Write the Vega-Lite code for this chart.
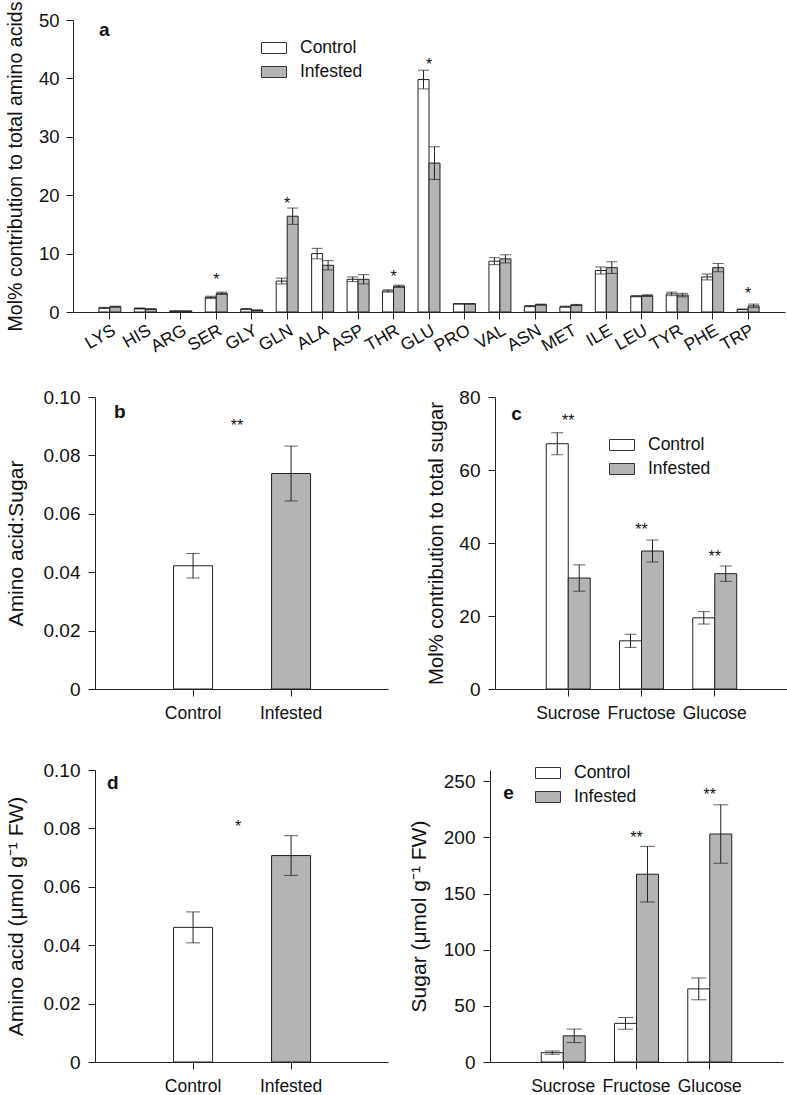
{
  "$schema": "https://vega.github.io/schema/vega-lite/v6.json",
  "padding": {"left": 5, "top": 1, "right": 0, "bottom": 0},
  "columns": 1,
  "spacing": 32,
  "resolve": {"scale": {"fill": "independent", "xOffset": "independent"}, "legend": {"fill": "independent"}},
  "config": {
    "font": "Liberation Sans",
    "view": {"stroke": null},
    "axis": {"domainColor": "#222", "tickColor": "#222", "labelColor": "#111", "titleColor": "#111", "grid": false, "titleFontWeight": "normal", "tickSize": 7, "domainWidth": 1, "tickWidth": 1},
    "legend": {"title": null, "orient": "none", "symbolType": "M-1,-0.44H1V0.44H-1Z", "symbolSize": 625, "symbolStrokeColor": "#333", "symbolStrokeWidth": 1, "symbolOpacity": 1, "labelFontSize": 17.5, "labelColor": "#111", "labelOffset": 13, "rowPadding": 2}
  },
  "concat": [
    {
      "hconcat": [
        {
          "width": 712,
          "height": 292,
          "data": {"values": [
            {"aa": "LYS", "group": "Control", "mean": 0.7, "se": 0.1}, {"aa": "LYS", "group": "Infested", "mean": 0.9, "se": 0.1},
            {"aa": "HIS", "group": "Control", "mean": 0.6, "se": 0.1}, {"aa": "HIS", "group": "Infested", "mean": 0.5, "se": 0.05},
            {"aa": "ARG", "group": "Control", "mean": 0.15, "se": 0.03}, {"aa": "ARG", "group": "Infested", "mean": 0.15, "se": 0.03},
            {"aa": "SER", "group": "Control", "mean": 2.5, "se": 0.2}, {"aa": "SER", "group": "Infested", "mean": 3.2, "se": 0.2},
            {"aa": "GLY", "group": "Control", "mean": 0.5, "se": 0.1}, {"aa": "GLY", "group": "Infested", "mean": 0.3, "se": 0.05},
            {"aa": "GLN", "group": "Control", "mean": 5.3, "se": 0.5}, {"aa": "GLN", "group": "Infested", "mean": 16.4, "se": 1.4},
            {"aa": "ALA", "group": "Control", "mean": 10.0, "se": 0.9}, {"aa": "ALA", "group": "Infested", "mean": 8.0, "se": 0.8},
            {"aa": "ASP", "group": "Control", "mean": 5.6, "se": 0.4}, {"aa": "ASP", "group": "Infested", "mean": 5.6, "se": 0.8},
            {"aa": "THR", "group": "Control", "mean": 3.6, "se": 0.2}, {"aa": "THR", "group": "Infested", "mean": 4.4, "se": 0.2},
            {"aa": "GLU", "group": "Control", "mean": 39.8, "se": 1.6}, {"aa": "GLU", "group": "Infested", "mean": 25.5, "se": 2.8},
            {"aa": "PRO", "group": "Control", "mean": 1.4, "se": 0.05}, {"aa": "PRO", "group": "Infested", "mean": 1.4, "se": 0.05},
            {"aa": "VAL", "group": "Control", "mean": 8.7, "se": 0.6}, {"aa": "VAL", "group": "Infested", "mean": 9.1, "se": 0.7},
            {"aa": "ASN", "group": "Control", "mean": 1.0, "se": 0.1}, {"aa": "ASN", "group": "Infested", "mean": 1.25, "se": 0.1},
            {"aa": "MET", "group": "Control", "mean": 0.9, "se": 0.1}, {"aa": "MET", "group": "Infested", "mean": 1.2, "se": 0.1},
            {"aa": "ILE", "group": "Control", "mean": 7.1, "se": 0.6}, {"aa": "ILE", "group": "Infested", "mean": 7.6, "se": 1.0},
            {"aa": "LEU", "group": "Control", "mean": 2.7, "se": 0.1}, {"aa": "LEU", "group": "Infested", "mean": 2.8, "se": 0.15},
            {"aa": "TYR", "group": "Control", "mean": 3.1, "se": 0.3}, {"aa": "TYR", "group": "Infested", "mean": 2.9, "se": 0.3},
            {"aa": "PHE", "group": "Control", "mean": 6.0, "se": 0.5}, {"aa": "PHE", "group": "Infested", "mean": 7.6, "se": 0.7},
            {"aa": "TRP", "group": "Control", "mean": 0.45, "se": 0.05}, {"aa": "TRP", "group": "Infested", "mean": 1.05, "se": 0.3}
          ]},
          "encoding": {
            "x": {"field": "aa", "type": "nominal", "sort": null,
              "scale": {"domain": ["LYS","HIS","ARG","SER","GLY","GLN","ALA","ASP","THR","GLU","PRO","VAL","ASN","MET","ILE","LEU","TYR","PHE","TRP"], "paddingInner": 0.38, "paddingOuter": 0.73},
              "axis": {"title": null, "labelAngle": -30, "labelAlign": "right", "labelBaseline": "top", "labelFontSize": 17.5, "labelPadding": 2}}
          },
          "layer": [
            {
              "mark": {"type": "bar", "stroke": "#222", "strokeWidth": 1},
              "encoding": {
                "xOffset": {"field": "group", "type": "nominal", "sort": ["Control", "Infested"]},
                "y": {"field": "mean", "type": "quantitative", "scale": {"domain": [0, 50]}, "title": "Mol% contribution to total amino acids",
                  "axis": {"titleFontSize": 19.6, "titlePadding": 13, "values": [0, 10, 20, 30, 40, 50], "labelFontSize": 18.5, "labelPadding": 7}},
                "fill": {"field": "group", "type": "nominal", "scale": {"domain": ["Control", "Infested"], "range": ["#ffffff", "#b4b4b4"]},
                  "legend": {"legendX": 188, "legendY": 15}}
              }
            },
            {
              "mark": {"type": "errorbar", "color": "#222", "thickness": 1, "ticks": {"size": 11, "thickness": 1}},
              "encoding": {
                "xOffset": {"field": "group", "type": "nominal", "sort": ["Control", "Infested"]},
                "y": {"field": "mean", "type": "quantitative", "title": "Mol% contribution to total amino acids"},
                "yError": {"field": "se"}
              }
            },
            {
              "data": {"values": [
                {"aa": "SER", "y": 6.2, "label": "*"}, {"aa": "GLN", "y": 19.2, "label": "*"}, {"aa": "THR", "y": 6.7, "label": "*"},
                {"aa": "GLU", "y": 43.0, "label": "*"}, {"aa": "TRP", "y": 3.7, "label": "*"}
              ]},
              "mark": {"type": "text", "fontSize": 16, "baseline": "middle", "dy": 4, "color": "#111"},
              "encoding": {
                "y": {"field": "y", "type": "quantitative", "title": "Mol% contribution to total amino acids"},
                "text": {"field": "label"}
              }
            },
            {
              "data": {"values": [{"aa": "LYS", "y": 47.3, "label": "a"}]},
              "mark": {"type": "text", "fontSize": 19, "fontWeight": "bold", "baseline": "alphabetic", "align": "left", "dx": -11, "color": "#111"},
              "encoding": {
                "y": {"field": "y", "type": "quantitative", "title": "Mol% contribution to total amino acids"},
                "text": {"field": "label"}
              }
            }
          ]
        }
      ]
    },
    {
      "columns": 1,
      "spacing": 38,
      "resolve": {"scale": {"fill": "independent", "xOffset": "independent"}, "legend": {"fill": "independent"}},
      "concat": [
        {
          "hconcat": [
            {
              "width": 315, "height": 292,
              "data": {"values": [
                {"group": "Control", "mean": 0.0422, "se": 0.0042},
                {"group": "Infested", "mean": 0.0738, "se": 0.0094}
              ]},
              "encoding": {
                "x": {"field": "group", "type": "nominal", "scale": {"domain": ["Control", "Infested"], "paddingInner": 0.602, "paddingOuter": 0.908, "align": 0.565},
                  "axis": {"title": null, "labelAngle": 0, "labelFontSize": 17.5, "labelPadding": 8, "domainDash": [0, 17, 400, 0]}}
              },
              "layer": [
                {
                  "mark": {"type": "bar", "stroke": "#222", "strokeWidth": 1},
                  "encoding": {
                    "y": {"field": "mean", "type": "quantitative", "scale": {"domain": [0, 0.1]}, "title": "Amino acid:Sugar",
                      "axis": {"offset": -22, "titleFontSize": 21, "titlePadding": 17, "values": [0, 0.02, 0.04, 0.06, 0.08, 0.1], "labelExpr": "datum.value == 0 ? '0' : format(datum.value, '.2f')", "labelFontSize": 19, "labelPadding": 8}},
                    "fill": {"field": "group", "type": "nominal", "scale": {"domain": ["Control", "Infested"], "range": ["#ffffff", "#b4b4b4"]}, "legend": null}
                  }
                },
                {
                  "mark": {"type": "errorbar", "color": "#222", "thickness": 1, "ticks": {"size": 13, "thickness": 1}},
                  "encoding": {
                    "y": {"field": "mean", "type": "quantitative", "title": "Amino acid:Sugar"},
                    "yError": {"field": "se"}
                  }
                },
                {
                  "data": {"values": [{"group": "Control", "y": 0.0915, "label": "**"}]},
                  "mark": {"type": "text", "fontSize": 16, "baseline": "middle", "dy": 4, "dx": 44, "color": "#111"},
                  "encoding": {
                    "y": {"field": "y", "type": "quantitative", "title": "Amino acid:Sugar"},
                    "text": {"field": "label"}
                  }
                },
                {
                  "data": {"values": [{"group": "Control", "y": 0.0929, "label": "b"}]},
                  "mark": {"type": "text", "fontSize": 19, "fontWeight": "bold", "baseline": "alphabetic", "align": "left", "dx": -79, "color": "#111"},
                  "encoding": {
                    "y": {"field": "y", "type": "quantitative", "title": "Amino acid:Sugar"},
                    "text": {"field": "label"}
                  }
                }
              ]
            },
            {
              "width": 293, "height": 292,
              "data": {"values": [
                {"sugar": "Sucrose", "group": "Control", "mean": 67.2, "se": 3.0}, {"sugar": "Sucrose", "group": "Infested", "mean": 30.4, "se": 3.6},
                {"sugar": "Fructose", "group": "Control", "mean": 13.2, "se": 1.8}, {"sugar": "Fructose", "group": "Infested", "mean": 37.8, "se": 3.0},
                {"sugar": "Glucose", "group": "Control", "mean": 19.5, "se": 1.7}, {"sugar": "Glucose", "group": "Infested", "mean": 31.6, "se": 2.1}
              ]},
              "encoding": {
                "x": {"field": "sugar", "type": "nominal", "scale": {"domain": ["Sucrose", "Fructose", "Glucose"], "paddingInner": 0.4, "paddingOuter": 0.7},
                  "axis": {"title": null, "labelAngle": 0, "labelFontSize": 17.5, "labelPadding": 8}}
              },
              "layer": [
                {
                  "mark": {"type": "bar", "stroke": "#222", "strokeWidth": 1},
                  "encoding": {
                    "xOffset": {"field": "group", "type": "nominal", "sort": ["Control", "Infested"]},
                    "y": {"field": "mean", "type": "quantitative", "scale": {"domain": [0, 80]}, "title": "Mol% contribution to total sugar",
                      "axis": {"titleFontSize": 20.2, "titlePadding": 12, "values": [0, 20, 40, 60, 80], "labelFontSize": 19, "labelPadding": 8}},
                    "fill": {"field": "group", "type": "nominal", "scale": {"domain": ["Control", "Infested"], "range": ["#ffffff", "#b4b4b4"]},
                      "legend": {"legendX": 114, "legendY": 35}}
                  }
                },
                {
                  "mark": {"type": "errorbar", "color": "#222", "thickness": 1, "ticks": {"size": 12, "thickness": 1}},
                  "encoding": {
                    "xOffset": {"field": "group", "type": "nominal", "sort": ["Control", "Infested"]},
                    "y": {"field": "mean", "type": "quantitative", "title": "Mol% contribution to total sugar"},
                    "yError": {"field": "se"}
                  }
                },
                {
                  "data": {"values": [
                    {"sugar": "Sucrose", "y": 74.5, "label": "**"}, {"sugar": "Fructose", "y": 44.7, "label": "**"}, {"sugar": "Glucose", "y": 37.3, "label": "**"}
                  ]},
                  "mark": {"type": "text", "fontSize": 16, "baseline": "middle", "dy": 4, "color": "#111"},
                  "encoding": {
                    "y": {"field": "y", "type": "quantitative", "title": "Mol% contribution to total sugar"},
                    "text": {"field": "label"}
                  }
                },
                {
                  "data": {"values": [{"sugar": "Sucrose", "y": 73.7, "label": "c"}]},
                  "mark": {"type": "text", "fontSize": 19, "fontWeight": "bold", "baseline": "alphabetic", "align": "left", "dx": -57, "color": "#111"},
                  "encoding": {
                    "y": {"field": "y", "type": "quantitative", "title": "Mol% contribution to total sugar"},
                    "text": {"field": "label"}
                  }
                }
              ]
            }
          ],
          "spacing": 38,
          "resolve": {"scale": {"fill": "independent", "xOffset": "independent"}, "legend": {"fill": "independent"}}
        },
        {
          "hconcat": [
            {
              "width": 315, "height": 292,
              "data": {"values": [
                {"group": "Control", "mean": 0.0461, "se": 0.0053},
                {"group": "Infested", "mean": 0.0707, "se": 0.0068}
              ]},
              "encoding": {
                "x": {"field": "group", "type": "nominal", "scale": {"domain": ["Control", "Infested"], "paddingInner": 0.602, "paddingOuter": 0.908, "align": 0.565},
                  "axis": {"title": null, "labelAngle": 0, "labelFontSize": 17.5, "labelPadding": 8, "domainDash": [0, 17, 400, 0]}}
              },
              "layer": [
                {
                  "mark": {"type": "bar", "stroke": "#222", "strokeWidth": 1},
                  "encoding": {
                    "y": {"field": "mean", "type": "quantitative", "scale": {"domain": [0, 0.1]}, "title": "Amino acid (μmol g⁻¹ FW)",
                      "axis": {"offset": -22, "titleFontSize": 21, "titlePadding": 17, "values": [0, 0.02, 0.04, 0.06, 0.08, 0.1], "labelExpr": "datum.value == 0 ? '0' : format(datum.value, '.2f')", "labelFontSize": 19, "labelPadding": 8}},
                    "fill": {"field": "group", "type": "nominal", "scale": {"domain": ["Control", "Infested"], "range": ["#ffffff", "#b4b4b4"]}, "legend": null}
                  }
                },
                {
                  "mark": {"type": "errorbar", "color": "#222", "thickness": 1, "ticks": {"size": 14, "thickness": 1}},
                  "encoding": {
                    "y": {"field": "mean", "type": "quantitative", "title": "Amino acid (μmol g⁻¹ FW)"},
                    "yError": {"field": "se"}
                  }
                },
                {
                  "data": {"values": [{"group": "Control", "y": 0.082, "label": "*"}]},
                  "mark": {"type": "text", "fontSize": 16, "baseline": "middle", "dy": 4, "dx": 45, "color": "#111"},
                  "encoding": {
                    "y": {"field": "y", "type": "quantitative", "title": "Amino acid (μmol g⁻¹ FW)"},
                    "text": {"field": "label"}
                  }
                },
                {
                  "data": {"values": [{"group": "Control", "y": 0.0935, "label": "d"}]},
                  "mark": {"type": "text", "fontSize": 19, "fontWeight": "bold", "baseline": "alphabetic", "align": "left", "dx": -86, "color": "#111"},
                  "encoding": {
                    "y": {"field": "y", "type": "quantitative", "title": "Amino acid (μmol g⁻¹ FW)"},
                    "text": {"field": "label"}
                  }
                }
              ]
            },
            {
              "width": 293, "height": 292,
              "data": {"values": [
                {"sugar": "Sucrose", "group": "Control", "mean": 8.3, "se": 1.5}, {"sugar": "Sucrose", "group": "Infested", "mean": 23.3, "se": 6.0},
                {"sugar": "Fructose", "group": "Control", "mean": 34.4, "se": 5.2}, {"sugar": "Fructose", "group": "Infested", "mean": 167.2, "se": 24.8},
                {"sugar": "Glucose", "group": "Control", "mean": 65.1, "se": 9.7}, {"sugar": "Glucose", "group": "Infested", "mean": 203.0, "se": 26.0}
              ]},
              "encoding": {
                "x": {"field": "sugar", "type": "nominal", "scale": {"domain": ["Sucrose", "Fructose", "Glucose"], "paddingInner": 0.4, "paddingOuter": 0.7},
                  "axis": {"title": null, "labelAngle": 0, "labelFontSize": 17.5, "labelPadding": 8}}
              },
              "layer": [
                {
                  "mark": {"type": "bar", "stroke": "#222", "strokeWidth": 1},
                  "encoding": {
                    "xOffset": {"field": "group", "type": "nominal", "sort": ["Control", "Infested"]},
                    "y": {"field": "mean", "type": "quantitative", "scale": {"domain": [0, 250]}, "title": "Sugar (μmol g⁻¹ FW)",
                      "axis": {"titleFontSize": 21, "titlePadding": 14, "values": [0, 50, 100, 150, 200, 250], "labelFontSize": 19, "labelPadding": 8}},
                    "fill": {"field": "group", "type": "nominal", "scale": {"domain": ["Control", "Infested"], "range": ["#ffffff", "#b4b4b4"]},
                      "legend": {"legendX": 45, "legendY": -10}}
                  }
                },
                {
                  "mark": {"type": "errorbar", "color": "#222", "thickness": 1, "ticks": {"size": 15, "thickness": 1}},
                  "encoding": {
                    "xOffset": {"field": "group", "type": "nominal", "sort": ["Control", "Infested"]},
                    "y": {"field": "mean", "type": "quantitative", "title": "Sugar (μmol g⁻¹ FW)"},
                    "yError": {"field": "se"}
                  }
                },
                {
                  "data": {"values": [
                    {"sugar": "Fructose", "y": 203, "label": "**"}, {"sugar": "Glucose", "y": 241.5, "label": "**"}
                  ]},
                  "mark": {"type": "text", "fontSize": 16, "baseline": "middle", "dy": 4, "color": "#111"},
                  "encoding": {
                    "y": {"field": "y", "type": "quantitative", "title": "Sugar (μmol g⁻¹ FW)"},
                    "text": {"field": "label"}
                  }
                },
                {
                  "data": {"values": [{"sugar": "Sucrose", "y": 233.8, "label": "e"}]},
                  "mark": {"type": "text", "fontSize": 19, "fontWeight": "bold", "baseline": "alphabetic", "align": "left", "dx": -60, "color": "#111"},
                  "encoding": {
                    "y": {"field": "y", "type": "quantitative", "title": "Sugar (μmol g⁻¹ FW)"},
                    "text": {"field": "label"}
                  }
                }
              ]
            }
          ],
          "spacing": 20,
          "resolve": {"scale": {"fill": "independent", "xOffset": "independent"}, "legend": {"fill": "independent"}}
        }
      ]
    }
  ]
}
